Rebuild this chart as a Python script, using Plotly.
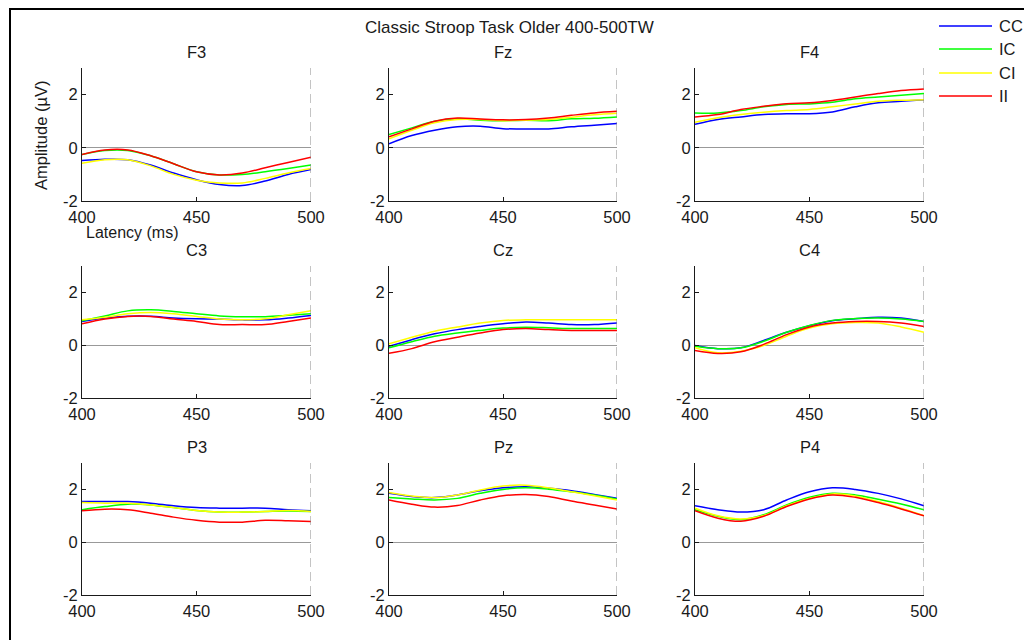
import plotly.graph_objects as go

# ---------------- data ----------------
latency = [400, 410, 420, 430, 440, 450, 460, 470, 480, 490, 500]
conditions = ["CC", "IC", "CI", "II"]
colors = ["#0000ff", "#00ff00", "#ffff00", "#ff0000"]
channels = ["F3", "Fz", "F4", "C3", "Cz", "C4", "P3", "Pz", "P4"]

# rows: CC, IC, CI, II
F3 = [
    [-0.48, -0.43, -0.45, -0.65, -0.95, -1.20, -1.38, -1.42, -1.25, -1.00, -0.82],
    [-0.25, -0.10, -0.10, -0.30, -0.60, -0.90, -1.02, -1.00, -0.90, -0.78, -0.65],
    [-0.58, -0.45, -0.45, -0.68, -1.00, -1.22, -1.32, -1.32, -1.15, -0.95, -0.78],
    [-0.25, -0.08, -0.08, -0.30, -0.60, -0.90, -1.02, -0.95, -0.75, -0.55, -0.35],
]
Fz = [
    [0.15, 0.46, 0.66, 0.79, 0.81, 0.72, 0.71, 0.71, 0.79, 0.85, 0.91],
    [0.50, 0.75, 1.00, 1.09, 1.04, 1.02, 1.04, 1.02, 1.09, 1.11, 1.16],
    [0.34, 0.66, 0.94, 1.06, 1.06, 1.02, 1.04, 1.06, 1.15, 1.24, 1.30],
    [0.41, 0.71, 1.00, 1.12, 1.08, 1.05, 1.06, 1.12, 1.22, 1.31, 1.37],
]
F4 = [
    [0.88, 1.06, 1.16, 1.25, 1.28, 1.28, 1.35, 1.54, 1.69, 1.75, 1.81],
    [1.31, 1.31, 1.40, 1.54, 1.63, 1.65, 1.71, 1.84, 1.91, 1.98, 2.04],
    [0.96, 1.13, 1.25, 1.34, 1.40, 1.44, 1.54, 1.65, 1.75, 1.79, 1.81],
    [1.16, 1.25, 1.44, 1.56, 1.66, 1.69, 1.78, 1.91, 2.04, 2.15, 2.21],
]
C3 = [
    [0.90, 1.03, 1.10, 1.10, 1.03, 1.00, 0.99, 0.96, 0.96, 1.03, 1.13],
    [0.93, 1.11, 1.30, 1.34, 1.28, 1.19, 1.11, 1.08, 1.08, 1.13, 1.19],
    [0.96, 1.06, 1.19, 1.24, 1.19, 1.09, 0.99, 0.96, 1.00, 1.15, 1.31],
    [0.81, 0.99, 1.09, 1.09, 0.99, 0.90, 0.78, 0.78, 0.78, 0.90, 1.03],
]
Cz = [
    [-0.04, 0.21, 0.43, 0.59, 0.71, 0.81, 0.88, 0.84, 0.78, 0.78, 0.84],
    [-0.10, 0.13, 0.34, 0.46, 0.56, 0.65, 0.68, 0.66, 0.63, 0.63, 0.63],
    [0.05, 0.30, 0.53, 0.69, 0.84, 0.94, 0.96, 0.96, 0.96, 0.96, 0.96],
    [-0.31, -0.13, 0.13, 0.30, 0.46, 0.59, 0.63, 0.59, 0.56, 0.56, 0.56],
]
C4 = [
    [-0.01, -0.13, -0.10, 0.18, 0.49, 0.74, 0.93, 1.00, 1.06, 1.03, 0.90],
    [-0.04, -0.13, -0.10, 0.15, 0.49, 0.75, 0.94, 1.01, 1.03, 0.99, 0.90],
    [-0.10, -0.29, -0.23, -0.01, 0.34, 0.65, 0.81, 0.86, 0.84, 0.69, 0.49],
    [-0.20, -0.31, -0.25, 0.03, 0.40, 0.69, 0.84, 0.90, 0.90, 0.84, 0.71],
]
P3 = [
    [1.54, 1.54, 1.54, 1.48, 1.38, 1.31, 1.29, 1.29, 1.29, 1.23, 1.19],
    [1.23, 1.35, 1.44, 1.41, 1.31, 1.20, 1.14, 1.14, 1.16, 1.18, 1.16],
    [1.50, 1.48, 1.48, 1.41, 1.31, 1.20, 1.14, 1.14, 1.16, 1.20, 1.16],
    [1.19, 1.25, 1.23, 1.10, 0.95, 0.83, 0.76, 0.76, 0.83, 0.81, 0.78],
]
Pz = [
    [1.85, 1.73, 1.69, 1.79, 1.95, 2.06, 2.10, 2.04, 1.95, 1.81, 1.66],
    [1.69, 1.64, 1.60, 1.66, 1.85, 2.00, 2.06, 2.01, 1.91, 1.79, 1.64],
    [1.88, 1.75, 1.69, 1.79, 1.98, 2.13, 2.16, 2.06, 1.91, 1.76, 1.60],
    [1.60, 1.44, 1.33, 1.39, 1.60, 1.76, 1.81, 1.73, 1.56, 1.41, 1.26],
]
P4 = [
    [1.38, 1.23, 1.14, 1.23, 1.60, 1.91, 2.06, 2.00, 1.85, 1.64, 1.38],
    [1.23, 0.98, 0.85, 1.04, 1.41, 1.70, 1.85, 1.79, 1.63, 1.45, 1.23],
    [1.29, 1.00, 0.88, 1.01, 1.38, 1.66, 1.83, 1.75, 1.54, 1.29, 1.00],
    [1.19, 0.91, 0.79, 0.98, 1.35, 1.64, 1.79, 1.70, 1.50, 1.26, 1.00],
]
channel_data = [F3, Fz, F4, C3, Cz, C4, P3, Pz, P4]

x_ticks = [400, 450, 500]
y_ticks = [-2, 0, 2]
y_tick_text = ["-2", "0", "2"]
x_range = [400, 500]
y_range = [-2, 3]

title_text = "Classic Stroop Task Older 400-500TW"
y_label = "Amplitude (µV)"
x_label = "Latency (ms)"

# ---------------- layout geometry (pixels) ----------------
W, H = 1024, 640
col_px = [(82, 311), (389, 617), (695, 924)]
row_px = [(68, 201), (266, 398), (463, 595)]

FONT = "Liberation Sans, Arial, Helvetica, sans-serif"
INK = "#1a1a1a"
TXT = 16.5

fig = go.Figure()
layout = dict(
    width=W, height=H, template="none",
    margin=dict(l=0, r=0, t=0, b=0, pad=0, autoexpand=False),
    paper_bgcolor="white", plot_bgcolor="white",
    showlegend=False,
    font=dict(family=FONT, size=TXT, color=INK),
)
shapes = []
annotations = []

for i, (name, data) in enumerate(zip(channels, channel_data)):
    r, c = divmod(i, 3)
    idx = "" if i == 0 else str(i + 1)
    xa, ya = "x" + idx, "y" + idx
    x0p, x1p = col_px[c]
    y0p, y1p = row_px[r]
    layout["xaxis" + idx] = dict(
        domain=[x0p / W, x1p / W], range=x_range, anchor=ya, automargin=False,
        tickvals=x_ticks, ticks="inside", ticklen=4, tickcolor=INK, tickwidth=1,
        ticklabelstandoff=1,
        showline=True, linecolor=INK, linewidth=1, mirror=False,
        showgrid=False, zeroline=False, fixedrange=True,
        tickfont=dict(size=TXT, color=INK, family=FONT),
    )
    layout["yaxis" + idx] = dict(
        domain=[1 - y1p / H, 1 - y0p / H], range=y_range, anchor=xa, automargin=False,
        tickvals=y_ticks, ticktext=y_tick_text,
        ticks="inside", ticklen=4, tickcolor=INK, tickwidth=1,
        showline=True, linecolor=INK, linewidth=1, mirror=False,
        showgrid=False, zeroline=True, zerolinecolor="#999999", zerolinewidth=1,
        fixedrange=True,
        tickfont=dict(size=TXT, color=INK, family=FONT),
    )
    # dashed boundary at end of window
    shapes.append(dict(type="line", xref=xa, yref=ya, x0=x_range[1], x1=x_range[1],
                       y0=y_range[0], y1=y_range[1],
                       line=dict(color="#888888", width=1, dash="9px,5px")))
    for cond, col, vals in zip(conditions, colors, data):
        fig.add_trace(go.Scatter(
            x=latency, y=vals, mode="lines", name=cond,
            line=dict(color=col, width=1.5, shape="spline", smoothing=1.0),
            xaxis=xa, yaxis=ya, hoverinfo="skip",
        ))
    # subplot title
    annotations.append(dict(text=name, xref="paper", yref="paper",
                            x=(x0p + x1p) / 2 / W, y=1 - (y0p - 16) / H,
                            showarrow=False, xanchor="center", yanchor="middle",
                            font=dict(size=TXT, color=INK, family=FONT)))

# main title
annotations.append(dict(text=title_text, xref="paper", yref="paper",
                        x=509 / W, y=1 - 27 / H, showarrow=False,
                        xanchor="center", yanchor="middle",
                        font=dict(size=17, color=INK, family=FONT)))
# axis labels on first panel
annotations.append(dict(text=y_label, xref="paper", yref="paper",
                        x=41 / W, y=1 - 136 / H, showarrow=False, textangle=-90,
                        xanchor="center", yanchor="middle",
                        font=dict(size=TXT, color=INK, family=FONT)))
annotations.append(dict(text=x_label, xref="paper", yref="paper",
                        x=132 / W, y=1 - 233 / H, showarrow=False,
                        xanchor="center", yanchor="middle",
                        font=dict(size=16, color=INK, family=FONT)))

# legend (drawn manually to match the original look)
leg_y = [26, 49, 73, 96]
for cond, col, ly in zip(conditions, colors, leg_y):
    shapes.append(dict(type="line", xref="paper", yref="paper",
                       x0=939 / W, x1=992 / W, y0=1 - ly / H, y1=1 - ly / H,
                       line=dict(color=col, width=1.5)))
    annotations.append(dict(text=cond, xref="paper", yref="paper",
                            x=997 / W, y=1 - ly / H, showarrow=False,
                            xanchor="left", yanchor="middle",
                            font=dict(size=TXT, color=INK, family=FONT)))

# outer figure frame
shapes.append(dict(type="rect", xref="paper", yref="paper",
                   x0=10 / W, x1=1.02, y0=-0.02, y1=1 - 9 / H,
                   line=dict(color="black", width=2), fillcolor="rgba(0,0,0,0)"))

layout["shapes"] = shapes
layout["annotations"] = annotations
fig.update_layout(**layout)

fig.write_html("out.html")
